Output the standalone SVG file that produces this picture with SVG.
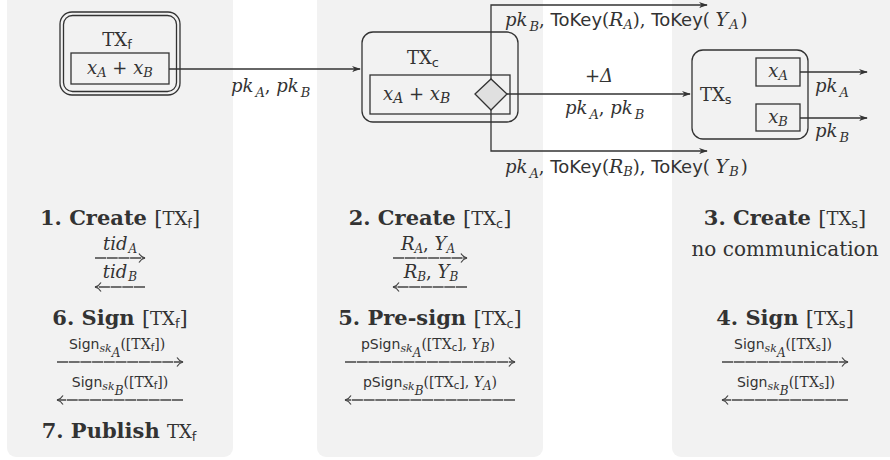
<svg xmlns="http://www.w3.org/2000/svg" width="890" height="460" viewBox="0 0 890 460">
<defs>
<style>
.panel{fill:#f2f2f2;stroke:none}
.ln{fill:none;stroke:#333;stroke-width:1.3}
.msg{fill:none;stroke:#444;stroke-width:1.3;stroke-dasharray:11 0.7}
.box{fill:none;stroke:#333;stroke-width:1.3}
text{fill:#333;font-family:"DejaVu Serif","Liberation Serif",serif}
.m{font-style:italic;font-size:18px}
.tt{font-family:"DejaVu Serif","Liberation Serif",serif;font-style:normal}
.sf{font-family:"DejaVu Sans","Liberation Sans",sans-serif;font-style:normal}
.rm{font-style:normal;font-weight:normal}
.h{font-weight:bold;font-size:21px}
</style>
<marker id="ah" viewBox="0 0 10 10" refX="9" refY="5" markerWidth="9" markerHeight="9" markerUnits="userSpaceOnUse" orient="auto">
<path d="M0,1.5 L10,5 L0,8.5 L3,5 Z" fill="#333"/>
</marker>
<marker id="oh" viewBox="0 0 10 10" refX="9" refY="5" markerWidth="10" markerHeight="10" markerUnits="userSpaceOnUse" orient="auto">
<path d="M3,0.5 Q5,4 9,5 Q5,6 3,9.5" fill="none" stroke="#444" stroke-width="1.2"/>
</marker>
</defs>

<g id="panels">
<rect class="panel" x="7" y="-10" width="226" height="467" rx="9"/>
<rect class="panel" x="317" y="-10" width="226" height="467" rx="9"/>
<rect class="panel" x="672" y="-10" width="230" height="467" rx="9"/>
</g>

<g id="connectors">
<path class="ln" d="M169,69 H360" marker-end="url(#ah)"/>
<path class="ln" d="M491,79 V5 H707" marker-end="url(#ah)"/>
<path class="ln" d="M491,110 V151 H707" marker-end="url(#ah)"/>
<path class="ln" d="M507,94 H690" marker-end="url(#ah)"/>
<path class="ln" d="M800,72 H867" marker-end="url(#ah)"/>
<path class="ln" d="M800,118 H867" marker-end="url(#ah)"/>
<text class="m" x="231" y="92">pk<tspan font-size="13" dx="2" dy="5">A</tspan><tspan class="rm" dy="-5">, </tspan>pk<tspan font-size="13" dx="2" dy="5">B</tspan></text>
<text class="m" x="505" y="26">pk<tspan font-size="13" dx="2" dy="5">B</tspan><tspan class="rm" dy="-5">, </tspan><tspan class="sf">ToKey</tspan><tspan class="rm">(</tspan><tspan font-size="19">R</tspan><tspan font-size="13" dy="3">A</tspan><tspan class="rm" dy="-3">), </tspan><tspan class="sf">ToKey</tspan><tspan class="rm">( </tspan><tspan font-size="19">Y</tspan><tspan font-size="13" dx="1" dy="3">A</tspan><tspan class="rm" dx="2" dy="-3">)</tspan></text>
<text class="m" x="505" y="173">pk<tspan font-size="13" dx="2" dy="5">A</tspan><tspan class="rm" dy="-5">, </tspan><tspan class="sf">ToKey</tspan><tspan class="rm">(</tspan><tspan font-size="19">R</tspan><tspan font-size="13" dy="3">B</tspan><tspan class="rm" dy="-3">), </tspan><tspan class="sf">ToKey</tspan><tspan class="rm">( </tspan><tspan font-size="19">Y</tspan><tspan font-size="13" dx="1" dy="3">B</tspan><tspan class="rm" dx="2" dy="-3">)</tspan></text>
<text class="m" x="599" y="82" text-anchor="middle"><tspan class="rm">+</tspan>Δ</text>
<text class="m" x="565" y="114">pk<tspan font-size="13" dx="2" dy="5">A</tspan><tspan class="rm" dy="-5">, </tspan>pk<tspan font-size="13" dx="2" dy="5">B</tspan></text>
<text class="m" x="815" y="92">pk<tspan font-size="13" dx="2" dy="5">A</tspan></text>
<text class="m" x="815" y="137">pk<tspan font-size="13" dx="2" dy="5">B</tspan></text>
</g>

<g id="TXf">
<rect class="box" x="60" y="12" width="120" height="83" rx="12"/>
<rect class="box" x="63.5" y="15.5" width="113" height="76" rx="9"/>
<text x="117" y="46" text-anchor="middle" font-size="18"><tspan class="tt">TX</tspan><tspan class="sf" font-size="13" dy="3">f</tspan></text>
<rect class="box" x="71" y="53" width="98" height="31"/>
<text class="m" x="120" y="74" text-anchor="middle">x<tspan font-size="13" dy="3">A</tspan><tspan class="rm" dy="-3"> + </tspan>x<tspan font-size="13" dy="3">B</tspan></text>
</g>

<g id="TXc">
<rect class="box" x="362" y="32" width="156" height="90" rx="11"/>
<text x="407" y="64" font-size="18"><tspan class="tt">TX</tspan><tspan class="sf" font-size="13" dy="3">c</tspan></text>
<rect class="box" x="370" y="75" width="140" height="39"/>
<text class="m" x="383" y="100" font-size="19">x<tspan font-size="14" dy="3">A</tspan><tspan class="rm" dy="-3"> + </tspan>x<tspan font-size="14" dy="3">B</tspan></text>
<path d="M475,94 L491,79 L507,94 L491,110 Z" fill="#e0e0e0" stroke="#333" stroke-width="1.3"/>
</g>

<g id="TXs">
<rect class="box" x="692" y="50" width="116" height="89" rx="11"/>
<text x="700" y="101" font-size="18"><tspan class="tt">TX</tspan><tspan class="sf" font-size="13" dy="3">s</tspan></text>
<rect class="box" x="756" y="58" width="44" height="28"/>
<text class="m" x="778" y="77" text-anchor="middle">x<tspan font-size="13" dy="3">A</tspan></text>
<rect class="box" x="756" y="104" width="44" height="27"/>
<text class="m" x="778" y="123" text-anchor="middle">x<tspan font-size="13" dy="3">B</tspan></text>
</g>

<g id="step1">
<text class="h" x="120" y="225" text-anchor="middle">1. Create <tspan class="rm">[</tspan><tspan class="tt rm" font-size="18">TX</tspan><tspan class="sf rm" font-size="13" dy="3">f</tspan><tspan class="rm" dy="-3">]</tspan></text>
<text class="m" x="120" y="250" text-anchor="middle" font-size="15">tid<tspan font-size="12" dx="1" dy="3">A</tspan></text>
<path class="msg" d="M95,258 H145" marker-end="url(#oh)"/>
<text class="m" x="120" y="278" text-anchor="middle" font-size="15">tid<tspan font-size="12" dx="1" dy="3">B</tspan></text>
<path class="msg" d="M145,287 H95" marker-end="url(#oh)"/>
</g>

<g id="step6">
<text class="h" x="120" y="325" text-anchor="middle">6. Sign <tspan class="rm"> [</tspan><tspan class="tt rm" font-size="18">TX</tspan><tspan class="sf rm" font-size="13" dy="3">f</tspan><tspan class="rm" dy="-3">]</tspan></text>
<text x="117" y="349" text-anchor="middle" font-size="14"><tspan class="sf">Sign</tspan><tspan font-style="italic" font-size="11" dy="3">sk</tspan><tspan font-style="italic" font-size="12" dy="5">A</tspan><tspan dy="-8">([</tspan><tspan class="tt">TX</tspan><tspan class="sf" font-size="10" dy="2">f</tspan><tspan dy="-2">])</tspan></text>
<path class="msg" d="M57,362 H183" marker-end="url(#oh)"/>
<text x="120" y="387" text-anchor="middle" font-size="14"><tspan class="sf">Sign</tspan><tspan font-style="italic" font-size="11" dy="3">sk</tspan><tspan font-style="italic" font-size="12" dy="5">B</tspan><tspan dy="-8">([</tspan><tspan class="tt">TX</tspan><tspan class="sf" font-size="10" dy="2">f</tspan><tspan dy="-2">])</tspan></text>
<path class="msg" d="M183,400 H57" marker-end="url(#oh)"/>
</g>

<g id="step7">
<text class="h" x="119" y="438" text-anchor="middle">7. Publish <tspan class="tt rm" font-size="18"> TX</tspan><tspan class="sf rm" font-size="13" dy="3">f</tspan></text>
</g>

<g id="step2">
<text class="h" x="430" y="225" text-anchor="middle">2. Create <tspan class="rm">[</tspan><tspan class="tt rm" font-size="18">TX</tspan><tspan class="sf rm" font-size="13" dy="3">c</tspan><tspan class="rm" dy="-3">]</tspan></text>
<text class="m" x="428" y="250" text-anchor="middle" font-size="15">R<tspan font-size="12" dy="3">A</tspan><tspan class="rm" dy="-3">, </tspan>Y<tspan font-size="12" dy="3">A</tspan></text>
<path class="msg" d="M393,258 H467" marker-end="url(#oh)"/>
<text class="m" x="431" y="278" text-anchor="middle" font-size="15">R<tspan font-size="12" dy="3">B</tspan><tspan class="rm" dy="-3">, </tspan>Y<tspan font-size="12" dy="3">B</tspan></text>
<path class="msg" d="M467,287 H393" marker-end="url(#oh)"/>
</g>

<g id="step5">
<text class="h" x="430" y="325" text-anchor="middle">5. Pre-sign <tspan class="rm"> [</tspan><tspan class="tt rm" font-size="18">TX</tspan><tspan class="sf rm" font-size="13" dy="3">c</tspan><tspan class="rm" dy="-3">]</tspan></text>
<text x="428" y="349" text-anchor="middle" font-size="14"><tspan class="sf">pSign</tspan><tspan font-style="italic" font-size="11" dy="3">sk</tspan><tspan font-style="italic" font-size="12" dy="5">A</tspan><tspan dy="-8">([</tspan><tspan class="tt">TX</tspan><tspan class="sf" font-size="10" dy="2">c</tspan><tspan dy="-2">], </tspan><tspan font-style="italic">Y</tspan><tspan font-style="italic" font-size="12" dy="3">B</tspan><tspan dy="-3">)</tspan></text>
<path class="msg" d="M345,362 H515" marker-end="url(#oh)"/>
<text x="430" y="387" text-anchor="middle" font-size="14"><tspan class="sf">pSign</tspan><tspan font-style="italic" font-size="11" dy="3">sk</tspan><tspan font-style="italic" font-size="12" dy="5">B</tspan><tspan dy="-8">([</tspan><tspan class="tt">TX</tspan><tspan class="sf" font-size="10" dy="2">c</tspan><tspan dy="-2">], </tspan><tspan font-style="italic">Y</tspan><tspan font-style="italic" font-size="12" dy="3">A</tspan><tspan dy="-3">)</tspan></text>
<path class="msg" d="M515,400 H345" marker-end="url(#oh)"/>
</g>

<g id="step3">
<text class="h" x="785" y="225" text-anchor="middle">3. Create <tspan class="rm">[</tspan><tspan class="tt rm" font-size="18">TX</tspan><tspan class="sf rm" font-size="13" dy="3">s</tspan><tspan class="rm" dy="-3">]</tspan></text>
<text x="785" y="256" text-anchor="middle" font-size="20">no communication</text>
</g>

<g id="step4">
<text class="h" x="785" y="325" text-anchor="middle">4. Sign <tspan class="rm"> [</tspan><tspan class="tt rm" font-size="18">TX</tspan><tspan class="sf rm" font-size="13" dy="3">s</tspan><tspan class="rm" dy="-3">]</tspan></text>
<text x="783" y="349" text-anchor="middle" font-size="14"><tspan class="sf">Sign</tspan><tspan font-style="italic" font-size="11" dy="3">sk</tspan><tspan font-style="italic" font-size="12" dy="5">A</tspan><tspan dy="-8">([</tspan><tspan class="tt">TX</tspan><tspan class="sf" font-size="10" dy="2">s</tspan><tspan dy="-2">])</tspan></text>
<path class="msg" d="M722,362 H848" marker-end="url(#oh)"/>
<text x="786" y="387" text-anchor="middle" font-size="14"><tspan class="sf">Sign</tspan><tspan font-style="italic" font-size="11" dy="3">sk</tspan><tspan font-style="italic" font-size="12" dy="5">B</tspan><tspan dy="-8">([</tspan><tspan class="tt">TX</tspan><tspan class="sf" font-size="10" dy="2">s</tspan><tspan dy="-2">])</tspan></text>
<path class="msg" d="M848,400 H722" marker-end="url(#oh)"/>
</g>
</svg>
